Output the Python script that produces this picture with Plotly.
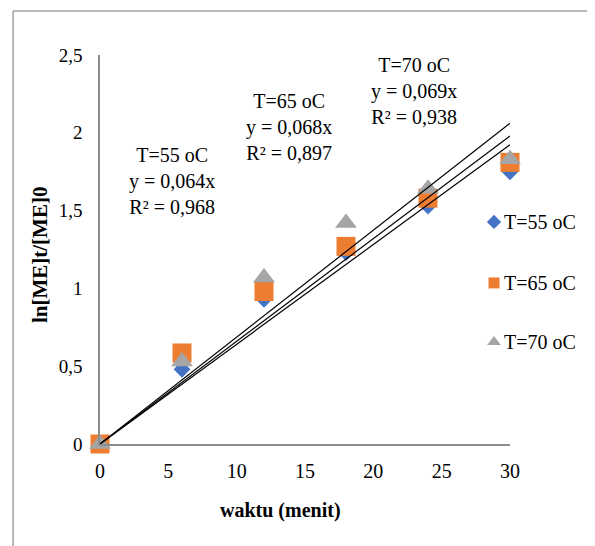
import plotly.graph_objects as go

waktu = [0, 6, 12, 18, 24, 30]
series_names = ["T=55 oC", "T=65 oC", "T=70 oC"]
y55 = [0, 0.48, 0.93, 1.23, 1.53, 1.75]
y65 = [0, 0.585, 0.98, 1.27, 1.58, 1.81]
y70 = [0, 0.53, 1.07, 1.42, 1.64, 1.83]
line_slopes = [0.0641, 0.0660, 0.0687]
slope_txt = ["0,064", "0,068", "0,069"]
r2_txt = ["0,968", "0,897", "0,938"]
x_title = "waktu (menit)"
y_title = "ln[ME]t/[ME]0"

colors = ["#4472C4", "#ED7D31", "#A5A5A5"]
symbols = ["diamond", "square", "triangle-up"]
sizes = [13, 19, 19]
legend_sizes = [11, 11, 12]
FONT = "Liberation Serif, Times New Roman, serif"

fig = go.Figure()
for i, ys in enumerate([y55, y65, y70]):
    fig.add_trace(go.Scatter(
        x=waktu, y=ys, mode="markers", name=series_names[i],
        marker=dict(symbol=symbols[i], size=sizes[i], color=colors[i], line=dict(width=0)),
        cliponaxis=False, showlegend=False,
    ))

for s in line_slopes:
    xs = [waktu[0], waktu[-1]]
    fig.add_trace(go.Scatter(
        x=xs, y=[s * v for v in xs], mode="lines", showlegend=False,
        line=dict(color="black", width=1.2), hoverinfo="skip", cliponaxis=False,
    ))

# equation labels
label_pos = [(5.3, 1.69), (13.8, 2.04), (23.0, 2.27)]
for i, (lx, ly) in enumerate(label_pos):
    fig.add_annotation(
        x=lx, y=ly, xref="x", yref="y", showarrow=False,
        text=f"{series_names[i]}<br>y = {slope_txt[i]}x<br>R² = {r2_txt[i]}",
        font=dict(family=FONT, size=20, color="black"), align="center",
    )

# manual legend (paper-space overlay axes)
leg_x = 0.961
leg_y = [0.571, 0.414, 0.262]
for i in range(3):
    fig.add_trace(go.Scatter(
        x=[leg_x], y=[leg_y[i]], xaxis="x2", yaxis="y2", mode="markers",
        marker=dict(symbol=symbols[i], size=legend_sizes[i], color=colors[i], line=dict(width=0)),
        showlegend=False, hoverinfo="skip", cliponaxis=False,
    ))
    fig.add_annotation(
        x=leg_x + 0.02, y=leg_y[i], xref="paper", yref="paper", showarrow=False,
        xanchor="left", yanchor="middle", text=series_names[i],
        font=dict(family=FONT, size=20, color="black"),
    )

# axis titles
fig.add_annotation(x=0.441, y=-0.170, xref="paper", yref="paper", showarrow=False,
                   xanchor="center", yanchor="middle",
                   text=f"<b>{x_title}</b>", font=dict(family=FONT, size=20, color="black"))
fig.add_annotation(x=-0.146, y=0.486, xref="paper", yref="paper", showarrow=False, textangle=-90,
                   xanchor="center", yanchor="middle",
                   text=f"<b>{y_title}</b>", font=dict(family=FONT, size=21, color="black"))

# outer frame (left and top edges visible)
fig.add_shape(type="line", xref="paper", yref="paper", x0=-0.212, x1=1.4, y0=1.113, y1=1.113,
              line=dict(color="#A0A0A0", width=1.5))
fig.add_shape(type="line", xref="paper", yref="paper", x0=-0.212, x1=-0.212, y0=1.113, y1=-0.4,
              line=dict(color="#A0A0A0", width=1.5))

fig.update_layout(
    width=587, height=538,
    margin=dict(l=92, r=85, t=47, b=102),
    paper_bgcolor="white", plot_bgcolor="white",
    separators=",.",
    font=dict(family=FONT, size=19, color="black"),
    showlegend=False,
    xaxis=dict(range=[0, 30], tickvals=[0, 5, 10, 15, 20, 25, 30], showgrid=False, zeroline=False,
               showline=True, linecolor="#8C8C8C", linewidth=1.5, ticks="",
               tickfont=dict(family=FONT, size=20), ticklabelstandoff=8),
    yaxis=dict(range=[0, 2.5], tickvals=[0, 0.5, 1, 1.5, 2, 2.5], showgrid=False, zeroline=False,
               showline=True, linecolor="#8C8C8C", linewidth=1.5, ticks="",
               tickfont=dict(family=FONT, size=19), ticklabelstandoff=12),
    xaxis2=dict(overlaying="x", range=[0, 1], visible=False, fixedrange=True),
    yaxis2=dict(overlaying="y", range=[0, 1], visible=False, fixedrange=True),
)

fig.write_html("out.html")
